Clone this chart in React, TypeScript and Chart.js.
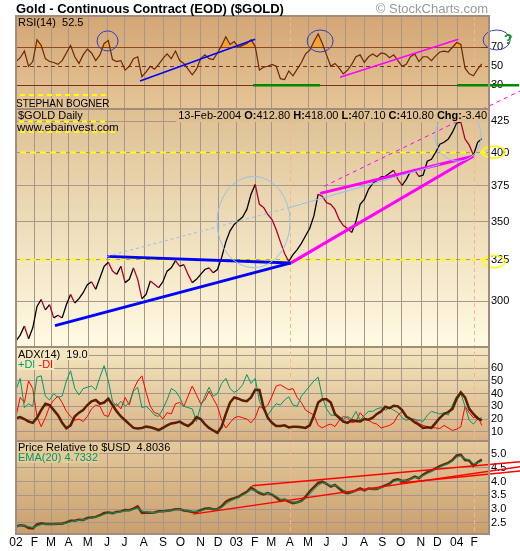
import React, { useEffect, useRef } from 'react';
import { Chart, registerables } from 'chart.js';

Chart.register(...registerables);

// ---------------- data (weekly samples, Jan 2002 .. 13 Feb 2004) ----------------
const MONTH_LABELS = ['02', 'F', 'M', 'A', 'M', 'J', 'J', 'A', 'S', 'O', 'N', 'D', '03', 'F', 'M', 'A', 'M', 'J', 'J', 'A', 'S', 'O', 'N', 'D', '04', 'F'];
const MONTH_TRADING_DAYS = [21, 19, 20, 22, 22, 20, 22, 22, 20, 23, 20, 21, 21, 19, 21, 21, 21, 21, 22, 21, 21, 23, 19, 22, 20];
const PRICE_TICKS = [300, 325, 350, 375, 400, 425];
const RSI_TICKS = [30, 50, 70];
const ADX_TICKS = [10, 20, 30, 40, 50, 60, 70];
const REL_TICKS = [2.5, 3.0, 3.5, 4.0, 4.5, 5.0];

const goldClose = [
  277.9, 281, 286, 279, 285, 297, 301, 295, 298, 290.5,
  292, 290.5, 298, 304, 299, 301.5, 305, 309.7, 311.5, 307,
  314, 321, 323.5, 318, 316, 321, 311, 313, 320, 313,
  301.5, 304, 312, 310, 308, 311.5, 318, 320, 324.5, 321,
  322, 316, 311, 313, 316, 319, 320, 317, 319, 326.5,
  336.5, 343.8, 348, 350.7, 353, 358.3, 369, 376, 361.8, 359.7,
  354.8, 351.4, 344.7, 336.5, 329, 324, 328.3, 331.5, 335.5, 340.5,
  345.5, 354, 369, 367.5, 363, 361.8, 358.3, 351.4, 347.3, 345.3,
  342.7, 350, 361.8, 365.3, 372.5, 376.8, 379, 381.5, 382, 384.2,
  386.5, 379.8, 375.4, 379.8, 385.8, 386.5, 382, 382.8, 393.3, 394.8,
  400.2, 406.5, 408, 410.5, 416, 423.4, 424.2, 410.5, 405.7, 397.9,
  408, 410.8,
];

const rsi14 = [
  55, 59, 66, 50, 55, 78, 72, 58, 55, 54,
  52, 56, 64, 72, 60, 53, 62, 68, 64, 56,
  62, 74, 77, 57, 55, 56, 46, 50, 58, 60,
  39, 44, 50, 47, 52, 58, 63, 58, 66, 56,
  53, 47, 41, 47, 58, 62, 58, 57, 64, 72,
  81, 73, 76, 70, 72, 74, 78, 71, 46, 49,
  50, 52, 50, 37, 36, 45, 40, 47, 54, 63,
  67, 76, 84, 74, 62, 50, 53, 48, 42, 46,
  52, 60, 62, 54, 60, 63, 60, 64, 63, 59,
  62, 56, 50, 52, 60, 63, 55, 60, 60, 56,
  61, 65, 66, 65, 70, 75, 73, 48, 42, 40,
  47, 52.5,
];

const adx14 = [
  20.5, 21.5, 20, 18, 17, 21, 27, 32, 31, 27,
  23, 17, 12.7, 15, 22, 25, 27, 31, 34, 35,
  32, 33, 36, 31, 26, 22, 19, 16, 13, 12.5,
  13, 14, 13.5, 12.5, 11.3, 13, 15, 16.5, 17, 18,
  16, 14.5, 17, 21.5, 20, 16, 13, 11, 9.2, 14,
  24, 33, 37, 36, 34.5, 34, 37, 43, 42.8, 29,
  21, 17, 14.5, 14.5, 15, 13.4, 14, 14, 13.5, 13,
  15, 23, 33, 35.5, 35.5, 33, 24, 21, 18, 17,
  19, 18.5, 18, 20, 19.5, 21, 24, 26, 29.7, 28.5,
  30.5, 30, 27, 22, 20, 17.5, 15.5, 13, 13.5, 13,
  17, 21, 24, 25.5, 28, 36, 41, 37, 28, 24,
  20.5, 19,
];

const plusDI = [
  43, 52, 29, 32, 30, 53, 54, 38, 35, 40,
  37, 38, 50, 58, 44, 39, 44, 45, 46, 43,
  53, 62, 50, 34, 30, 34, 30, 33, 42, 45,
  29, 30, 27, 23, 22, 28, 35, 44, 42, 37,
  30, 29, 28, 18, 30, 38, 45, 38, 40, 48,
  52, 44, 41, 43, 47, 55, 48, 52, 34, 27,
  23, 28, 32, 31, 35, 37.5, 31, 30, 38, 42,
  46, 50, 53, 37, 28, 23, 23, 22, 20, 22,
  20, 26, 19, 23, 26, 26, 28, 29, 27, 29,
  27, 25, 21, 19, 20, 19.5, 19, 18, 23, 26,
  25, 24, 25, 23, 31, 38, 40, 30, 19, 16,
  20, 21,
];

const minusDI = [
  22, 37, 33, 50, 44, 22, 14, 21, 30, 35,
  38, 33, 26, 22, 19, 20, 18, 22, 28, 31,
  30, 23, 22, 30, 32, 28, 37, 31, 43, 50,
  54, 41, 30, 25, 24, 20, 25, 24, 32, 33,
  30, 38, 46, 39, 32, 35, 42, 36, 30, 19,
  13, 17, 21, 22, 21, 20, 17, 21, 30, 28,
  31, 38, 46, 47, 45, 43, 44, 37, 33, 27,
  25, 23, 15, 13, 15, 16, 14, 19, 22, 21,
  17, 18, 25, 21, 19, 17, 16, 13, 14, 15,
  17, 23, 26, 22, 20, 20, 16.5, 15, 14, 13.5,
  13, 12.5, 15, 13, 11, 12, 14, 30, 25, 21,
  22, 15,
];

const relUSD = [
  2.37, 2.42, 2.40, 2.32, 2.30, 2.45, 2.49, 2.46, 2.46, 2.46,
  2.47, 2.47, 2.52, 2.58, 2.58, 2.62, 2.61, 2.68, 2.70, 2.72,
  2.78, 2.86, 2.88, 2.85, 2.90, 2.92, 2.97, 2.96, 3.02, 3.10,
  2.86, 2.88, 2.87, 2.88, 2.92, 2.92, 2.94, 2.96, 3.00, 3.00,
  2.95, 2.93, 2.90, 2.90, 2.96, 3.02, 3.03, 3.00, 3.00, 3.10,
  3.27, 3.35, 3.40, 3.45, 3.55, 3.63, 3.78, 3.68, 3.58, 3.53,
  3.58, 3.53, 3.42, 3.30, 3.35, 3.27, 3.22, 3.25, 3.30, 3.45,
  3.65, 3.80, 3.95, 4.00, 3.92, 3.82, 3.88, 3.75, 3.62, 3.58,
  3.62, 3.68, 3.75, 3.68, 3.75, 3.73, 3.73, 3.80, 3.86, 3.92,
  4.05, 4.08, 4.02, 4.04, 4.10, 4.18, 4.12, 4.25, 4.34, 4.40,
  4.48, 4.56, 4.62, 4.68, 4.78, 4.95, 4.97, 4.78, 4.76, 4.57,
  4.70, 4.80,
];

const ema20 = [
  2.38, 2.40, 2.40, 2.37, 2.34, 2.38, 2.44, 2.46, 2.46, 2.46,
  2.47, 2.47, 2.49, 2.54, 2.57, 2.60, 2.61, 2.65, 2.68, 2.71,
  2.75, 2.81, 2.86, 2.86, 2.88, 2.90, 2.94, 2.95, 2.99, 3.04,
  2.94, 2.90, 2.88, 2.88, 2.90, 2.91, 2.93, 2.95, 2.98, 2.99,
  2.97, 2.94, 2.92, 2.91, 2.93, 2.98, 3.01, 3.01, 3.00, 3.06,
  3.18, 3.28, 3.36, 3.42, 3.50, 3.58, 3.70, 3.68, 3.63, 3.57,
  3.57, 3.55, 3.47, 3.37, 3.36, 3.30, 3.25, 3.25, 3.28, 3.38,
  3.55, 3.71, 3.86, 3.95, 3.93, 3.86, 3.87, 3.80, 3.69, 3.63,
  3.62, 3.66, 3.72, 3.70, 3.73, 3.73, 3.73, 3.78, 3.83, 3.89,
  4.00, 4.05, 4.03, 4.04, 4.08, 4.15, 4.13, 4.21, 4.29, 4.36,
  4.44, 4.52, 4.59, 4.65, 4.74, 4.88, 4.93, 4.83, 4.79, 4.65,
  4.68, 4.73,
];

// trading days between two weekly samples
const SAMPLE_STEP = 4.8;
const X_MAX = 541;

// ---------------- annotations, in [trading day, value] ----------------
const priceTrendLines = [
  { from: [104.1, 327.2], to: [314.6, 323.1], color: '#0000ff', width: 3, dash: [] as number[] },
  { from: [44.6, 286.2], to: [314.6, 323.1], color: '#0000ff', width: 3, dash: [] as number[] },
  { from: [314.6, 323.1], to: [522.9, 397.1], color: '#ff00ff', width: 3, dash: [] as number[] },
  { from: [347.8, 369.6], to: [522.9, 397.1], color: '#ff00ff', width: 3, dash: [] as number[] },
  { from: [352.4, 374.7], to: [576.7, 450.6], color: '#ff00ff', width: 1, dash: [4, 4] },
  { from: [104.1, 327.2], to: [313.5, 359.7], color: '#8cc4f4', width: 1, dash: [3, 3] },
  { from: [313.5, 359.7], to: [485.1, 391.0], color: '#8cc4f4', width: 1, dash: [] as number[] },
];
const priceLevels = [400, 325];
const rsiTrendLines = [
  { from: [141.9, 34.5], to: [273.5, 78.4], color: '#0000ff' },
  { from: [370.7, 38.4], to: [506, 78.4], color: '#ff00ff' },
];
const rsiGreenSegments = [[271.2, 347.8], [504.6, 575.5]];
const relTrendLines = [
  { from: [270, 3.85], to: [576.7, 4.72] },
  { from: [202.5, 2.82], to: [576.7, 4.54] },
  { from: [439, 3.95], to: [576.7, 4.38] },
];
const ellipses = [
  { axis: 'yR', x: [92.7, 116.7], y: [66.1, 87.2], color: '#3040c0', width: 1 },
  { axis: 'yR', x: [333, 362.7], y: [65, 88.2], color: '#3040c0', width: 1 },
  { axis: 'yR', x: [534.3, 565.2], y: [67.2, 88.2], color: '#3040c0', width: 1 },
  { axis: 'yP', x: [230, 313.5], y: [320.1, 382.0], color: '#90c4f0', width: 1 },
  { axis: 'yP', x: [479.4, 532], y: [393.3, 433.4], color: '#90c4f0', width: 1 },
  { axis: 'yP', x: [533.2, 559.5], y: [395.6, 404.9], color: '#ffff00', width: 1.5 },
  { axis: 'yP', x: [534.3, 559.5], y: [320.1, 327.7], color: '#ffff00', width: 1.5 },
];
const questionMark = { x: 563, y: 78 };

const FONT = '"Liberation Sans", Arial, sans-serif';
const GRID = '#a8968a';

const monthStarts: number[] = [0];
MONTH_TRADING_DAYS.forEach((d, i) => monthStarts.push(monthStarts[i] + d));

const pts = (arr: number[]) => arr.map((v, i) => ({ x: i * SAMPLE_STEP, y: v }));

const panelBg = [
  { id: 'yR', top: '#d4a675', bottom: '#e5c597' },
  { id: 'yP', top: '#dec092', bottom: '#fffbe3' },
  { id: 'yA', top: '#f4e6c0', bottom: '#d7b283' },
  { id: 'yE', top: '#e5ca9c', bottom: '#c99f6f' },
];

function line(ctx: CanvasRenderingContext2D, x1: number, y1: number, x2: number, y2: number, color: string, width: number, dash: number[] = []) {
  ctx.save();
  ctx.strokeStyle = color;
  ctx.lineWidth = width;
  ctx.setLineDash(dash);
  ctx.beginPath();
  ctx.moveTo(x1, y1);
  ctx.lineTo(x2, y2);
  ctx.stroke();
  ctx.restore();
}

function boxedText(ctx: CanvasRenderingContext2D, text: string, x: number, y: number, font: string, color: string, bg: string | null) {
  ctx.save();
  ctx.font = font;
  const w = ctx.measureText(text).width;
  if (bg) {
    ctx.fillStyle = bg;
    ctx.fillRect(x - 1, y - 10, w + 2, 12);
  }
  ctx.fillStyle = color;
  ctx.textBaseline = 'alphabetic';
  ctx.textAlign = 'left';
  ctx.fillText(text, x, y);
  ctx.restore();
  return w;
}

const decorPlugin = {
  id: 'decor',
  beforeDraw(chart: any) {
    const { ctx, chartArea: a } = chart;
    ctx.save();
    ctx.fillStyle = '#ffffff';
    ctx.fillRect(0, 0, chart.width, chart.height);
    for (const p of panelBg) {
      const s = chart.scales[p.id];
      const g = ctx.createLinearGradient(0, s.top, 0, s.bottom);
      g.addColorStop(0, p.top);
      g.addColorStop(1, p.bottom);
      ctx.fillStyle = g;
      ctx.fillRect(a.left, s.top, a.right - a.left, s.bottom - s.top);
    }
    ctx.restore();
  },
  beforeDatasetsDraw(chart: any) {
    const { ctx, chartArea: a, scales } = chart;
    const X = scales.x;
    monthStarts.forEach((m, i) => {
      const x = Math.round(X.getPixelForValue(m)) + 0.5;
      if (i === 15 || i === 25) line(ctx, x, a.top, x, a.bottom, '#f6b685', 1, [4, 3]);
      else line(ctx, x, a.top, x, a.bottom, GRID, 1);
    });
    const R = scales.yR;
    const y70 = Math.round(R.getPixelForValue(70)) + 0.5;
    const y30 = Math.round(R.getPixelForValue(30)) + 0.5;
    const y50 = Math.round(R.getPixelForValue(50)) + 0.5;
    line(ctx, a.left, y70, a.right, y70, '#7a3510', 1.2);
    line(ctx, a.left, y30, a.right, y30, '#7a3510', 1.2);
    line(ctx, a.left, y50, a.right, y50, '#7a3510', 1, [4, 3]);
    const P = scales.yP;
    for (const lv of priceLevels) {
      const y = P.getPixelForValue(lv);
      line(ctx, a.left + 4, y, a.right, y, '#ffff00', 2, [6, 4]);
    }
  },
  afterDatasetsDraw(chart: any) {
    const { ctx, chartArea: a, scales } = chart;
    const X = scales.x;
    const px = (v: number) => X.getPixelForValue(v);
    const P = scales.yP, R = scales.yR, A = scales.yA, E = scales.yE;

    // RSI annotations
    for (const seg of rsiGreenSegments) {
      const y = R.getPixelForValue(30);
      line(ctx, px(seg[0]), y, px(seg[1]), y, '#008a00', 2.5);
    }
    for (const l of rsiTrendLines) {
      line(ctx, px(l.from[0]), R.getPixelForValue(l.from[1]), px(l.to[0]), R.getPixelForValue(l.to[1]), l.color, 1.5);
    }
    // price annotations
    for (const l of priceTrendLines) {
      line(ctx, px(l.from[0]), P.getPixelForValue(l.from[1]), px(l.to[0]), P.getPixelForValue(l.to[1]), l.color, l.width, l.dash);
    }
    // relative strength trendlines
    for (const l of relTrendLines) {
      line(ctx, px(l.from[0]), E.getPixelForValue(l.from[1]), px(l.to[0]), E.getPixelForValue(l.to[1]), '#ff0000', 1.5);
    }
    // ellipses
    for (const e of ellipses) {
      const s = scales[e.axis];
      const x1 = px(e.x[0]), x2 = px(e.x[1]);
      const y1 = s.getPixelForValue(e.y[0]), y2 = s.getPixelForValue(e.y[1]);
      ctx.save();
      ctx.strokeStyle = e.color;
      ctx.lineWidth = e.width;
      ctx.beginPath();
      ctx.ellipse((x1 + x2) / 2, (y1 + y2) / 2, Math.abs(x2 - x1) / 2, Math.abs(y2 - y1) / 2, 0, 0, Math.PI * 2);
      ctx.stroke();
      ctx.restore();
    }
    // question mark
    ctx.save();
    ctx.font = `bold 14px ${FONT}`;
    ctx.fillStyle = '#1a9a1a';
    ctx.textAlign = 'center';
    ctx.textBaseline = 'middle';
    ctx.fillText('?', px(questionMark.x), R.getPixelForValue(questionMark.y));
    ctx.restore();

    // legends
    const f11 = `11px ${FONT}`;
    const bf11 = `bold 11px ${FONT}`;
    boxedText(ctx, 'RSI(14)  52.5', 18, R.top + 10, f11, '#000', '#d4a675');
    boxedText(ctx, 'STEPHAN BOGNER', 16, R.bottom - 2, `10px ${FONT}`, '#000', null);
    boxedText(ctx, '$GOLD Daily', 18, P.top + 10, f11, '#000', '#dec092');
    boxedText(ctx, 'www.ebainvest.com', 17, P.top + 22, `11.5px ${FONT}`, '#000', null);
    // header right
    const pieces: [string, boolean][] = [
      ['13-Feb-2004 ', false], ['O:', true], ['412.80 ', false], ['H:', true], ['418.00 ', false],
      ['L:', true], ['407.10 ', false], ['C:', true], ['410.80 ', false], ['Chg:', true], ['-3.40', false],
    ];
    ctx.save();
    let total = 0;
    for (const [t, b] of pieces) { ctx.font = b ? bf11 : f11; total += ctx.measureText(t).width; }
    let hx = a.right - 2 - total;
    ctx.fillStyle = '#dec092';
    ctx.fillRect(hx - 2, P.top + 1, total + 3, 12);
    ctx.fillStyle = '#000';
    for (const [t, b] of pieces) { ctx.font = b ? bf11 : f11; ctx.fillText(t, hx, P.top + 10); hx += ctx.measureText(t).width; }
    ctx.restore();
    // decorative yellow dashes around author text
    line(ctx, 20, R.bottom - 14, 107, R.bottom - 14, '#ffff00', 2, [5, 4]);
    line(ctx, 19, P.top + 12.5, 107, P.top + 12.5, '#ffff00', 2, [5, 4]);
    line(ctx, 20, P.top + 23, 117, P.top + 23, '#ffff00', 2, [5, 4]);

    boxedText(ctx, 'ADX(14)  19.0', 18, A.top + 11, f11, '#000', '#f4e6c0');
    const w1 = boxedText(ctx, '+DI', 18, A.top + 21, f11, '#009966', '#f4e6c0');
    boxedText(ctx, ' -DI', 18 + w1, A.top + 21, f11, '#ff0000', '#f4e6c0');
    boxedText(ctx, 'Price Relative to $USD  4.8036', 18, E.top + 10, f11, '#000', '#e5ca9c');
    boxedText(ctx, 'EMA(20) 4.7332', 18, E.top + 20, f11, '#009966', '#e5ca9c');

    // panel borders
    ctx.save();
    ctx.strokeStyle = '#a28c7c';
    ctx.lineWidth = 2;
    ctx.strokeRect(a.left, a.top, a.right - a.left, a.bottom - a.top);
    for (const s of [R, P, A]) {
      ctx.beginPath();
      ctx.moveTo(a.left, s.bottom);
      ctx.lineTo(a.right, s.bottom);
      ctx.stroke();
    }
    ctx.restore();

    // title
    ctx.save();
    ctx.font = `bold 13px ${FONT}`;
    ctx.fillStyle = '#000';
    ctx.textAlign = 'left';
    ctx.fillText('Gold - Continuous Contract (EOD) ($GOLD)', 16, 13);
    ctx.font = `13px ${FONT}`;
    ctx.fillStyle = '#999999';
    ctx.textAlign = 'right';
    ctx.fillText('\u00a9 StockCharts.com', 488, 13);
    ctx.restore();
  },
};

const yTicks = (callback: (v: any) => string) => ({
  color: '#000', font: { family: FONT, size: 11 }, padding: 2, autoSkip: false, callback,
});

const yCommon = {
  position: 'right' as const,
  stack: 'panels',
  border: { display: false },
  afterFit: (s: any) => { s.width = 31; },
};

export default function App() {
  const ref = useRef<HTMLCanvasElement>(null);
  useEffect(() => {
    const chart = new Chart(ref.current as HTMLCanvasElement, {
      type: 'line',
      data: {
        datasets: [
          {
            label: 'Gold', data: pts(goldClose), yAxisID: 'yP', borderWidth: 1.3, pointRadius: 0,
            borderColor: '#000',
            segment: { borderColor: (c: any) => (c.p1.parsed.y < c.p0.parsed.y ? '#b0002c' : '#000000') },
          },
          {
            label: 'RSI', data: pts(rsi14), yAxisID: 'yR', borderWidth: 1.2, pointRadius: 0, borderColor: '#6b2808',
            fill: { target: { value: 70 }, above: '#f2a535', below: 'rgba(0,0,0,0)' },
          },
          { label: 'ADX', data: pts(adx14), yAxisID: 'yA', borderWidth: 2.5, pointRadius: 0, borderColor: '#5a1e00' },
          { label: '+DI', data: pts(plusDI), yAxisID: 'yA', borderWidth: 1, pointRadius: 0, borderColor: '#009966' },
          { label: '-DI', data: pts(minusDI), yAxisID: 'yA', borderWidth: 1, pointRadius: 0, borderColor: '#ff0000' },
          { label: 'EMA', data: pts(ema20), yAxisID: 'yE', borderWidth: 1, pointRadius: 0, borderColor: '#009966' },
          { label: 'Rel', data: pts(relUSD), yAxisID: 'yE', borderWidth: 2.5, pointRadius: 0, borderColor: '#6b2a08' },
        ],
      },
      options: {
        animation: false,
        responsive: false,
        devicePixelRatio: 1,
        layout: { padding: { left: 16, top: 16, right: 0, bottom: 0 } },
        plugins: { legend: { display: false }, tooltip: { enabled: false } },
        elements: { line: { tension: 0 } },
        scales: {
          x: {
            type: 'linear', min: 0, max: X_MAX,
            grid: { display: false, drawTicks: false }, border: { display: false },
            ticks: {
              color: '#000', font: { family: FONT, size: 12 }, padding: 1,
              autoSkip: false, maxRotation: 0, minRotation: 0,
              callback: (_v: any, i: number) => MONTH_LABELS[i] ?? '',
            },
            afterBuildTicks: (s: any) => { s.ticks = monthStarts.map((v) => ({ value: v })); },
            afterFit: (s: any) => { s.height = 17; },
          },
          yR: {
            ...yCommon, type: 'linear', stackWeight: 93, min: 5.05, max: 102.9,
            grid: { display: false, drawTicks: false },
            ticks: yTicks((v) => String(v)),
            afterBuildTicks: (s: any) => { s.ticks = RSI_TICKS.map((v) => ({ value: v })); },
          },
          yP: {
            ...yCommon, type: 'logarithmic', stackWeight: 238, min: 274.6, max: 435.1,
            grid: { color: GRID, drawTicks: false },
            ticks: yTicks((v) => String(v)),
            afterBuildTicks: (s: any) => { s.ticks = PRICE_TICKS.map((v) => ({ value: v })); },
          },
          yA: {
            ...yCommon, type: 'linear', stackWeight: 94, min: 2.7, max: 76.7,
            grid: { color: GRID, drawTicks: false },
            ticks: yTicks((v) => (v === 70 ? '' : String(v))),
            afterBuildTicks: (s: any) => { s.ticks = ADX_TICKS.map((v) => ({ value: v })); },
          },
          yE: {
            ...yCommon, type: 'linear', stackWeight: 93, min: 2.1, max: 5.47,
            grid: { color: GRID, drawTicks: false },
            ticks: yTicks((v) => Number(v).toFixed(1)),
            afterBuildTicks: (s: any) => { s.ticks = REL_TICKS.map((v) => ({ value: v })); },
          },
        } as any,
      },
      plugins: [decorPlugin],
    } as any);
    return () => chart.destroy();
  }, []);
  return (
    <div style={{ position: 'absolute', left: 0, top: 0, width: 520, height: 551, background: '#fff' }}>
      <canvas ref={ref} width={520} height={551} style={{ display: 'block', width: 520, height: 551 }} />
    </div>
  );
}
